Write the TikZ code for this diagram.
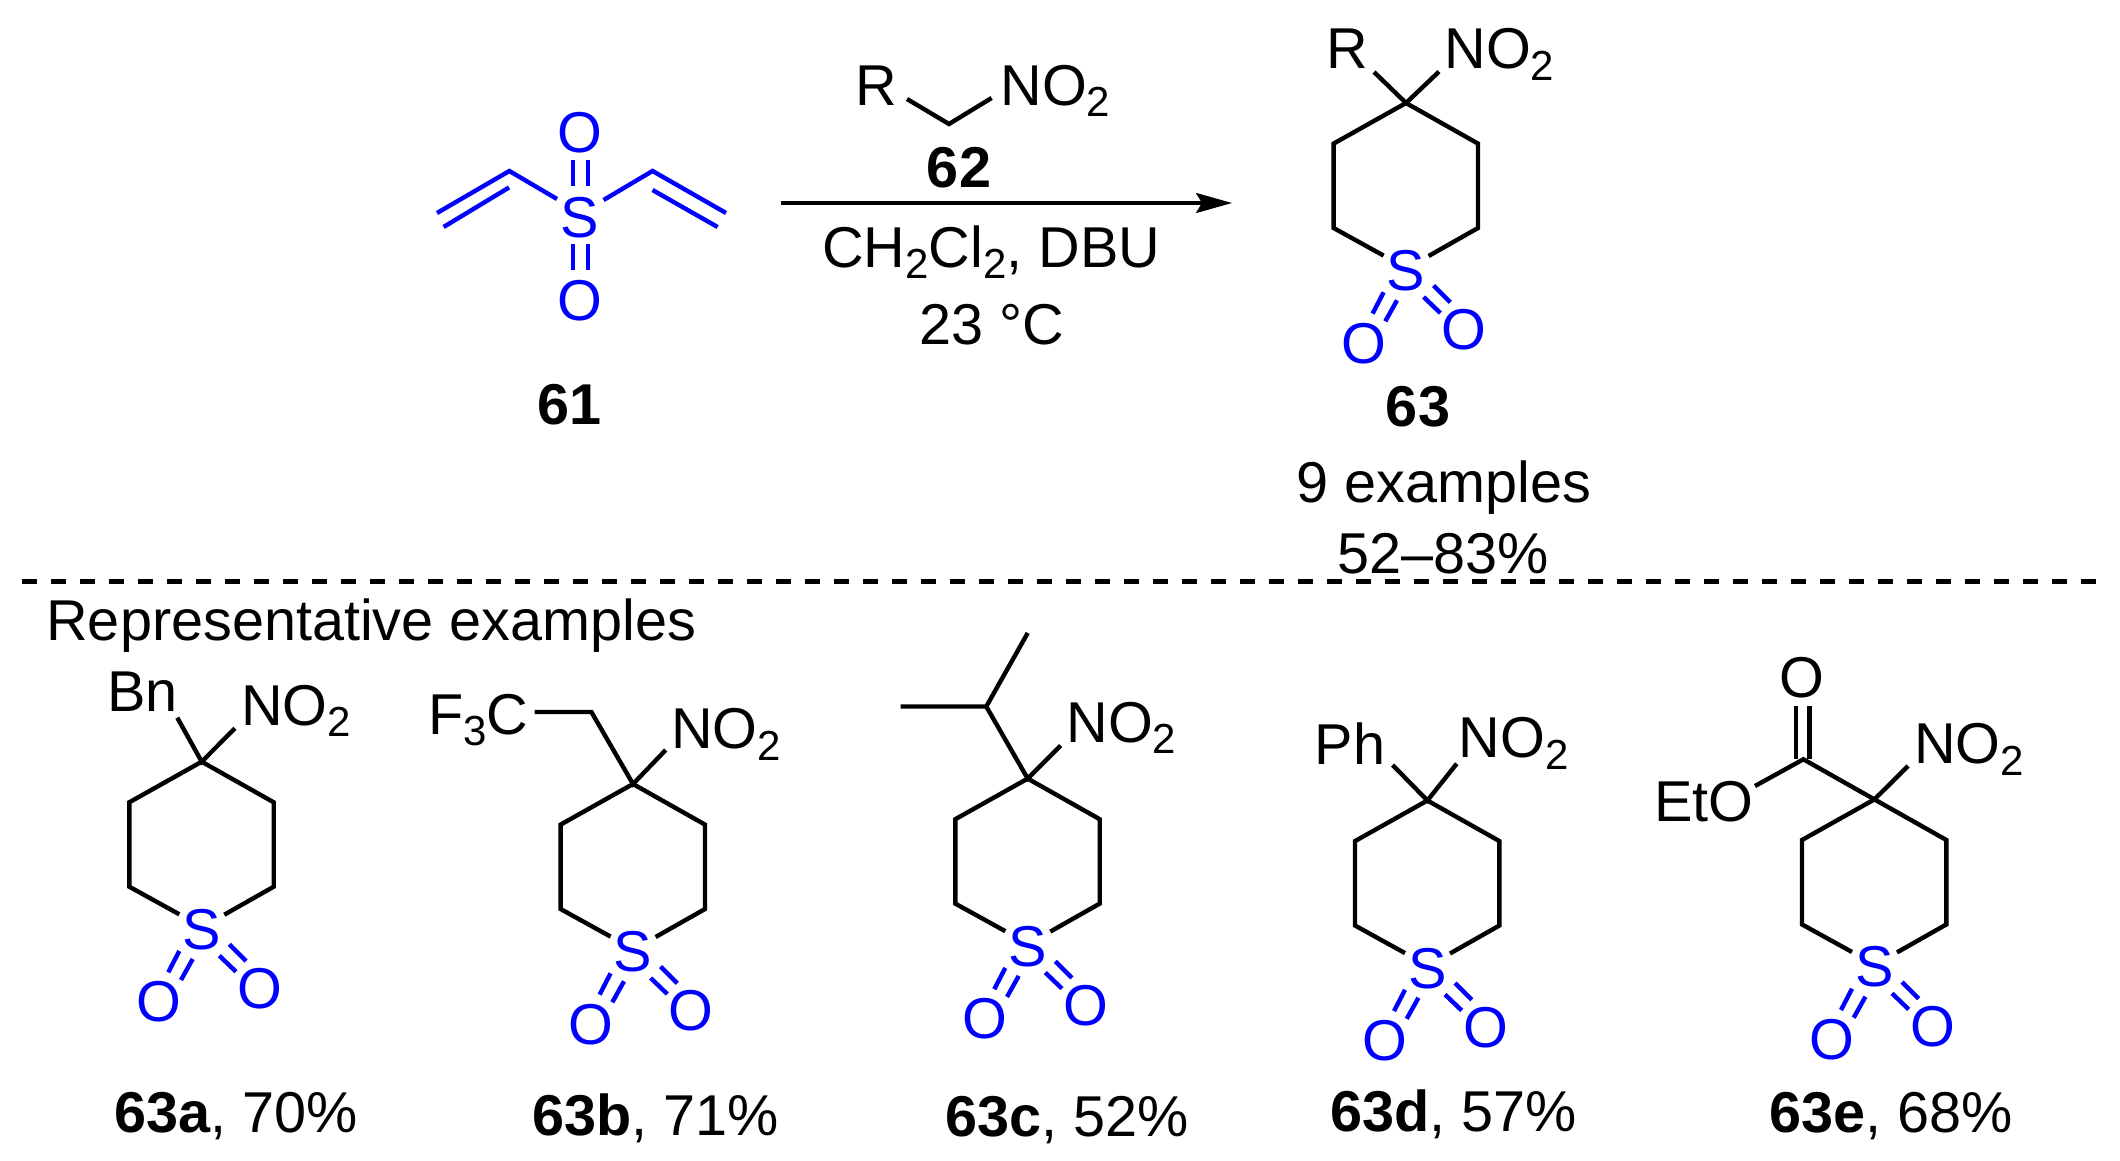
\documentclass[tikz,border=0pt]{standalone}
\usepackage{fontspec}
\setmainfont{Liberation Sans}
\usetikzlibrary{arrows.meta}
\definecolor{sblue}{RGB}{0,0,255}
\newcommand\fs{\fontsize{28.8}{32}\selectfont}
\newcommand\mysub[1]{\raisebox{-5.8pt}{\fontsize{21}{22}\selectfont #1}}
\newcommand\nitro{NO\mysub{2}}
\tikzset{
  bond/.style={line width=2.2pt,black},
  bbond/.style={line width=2.2pt,sblue},
  atomb/.style={inner sep=0pt,anchor=base,font=\fs,text=sblue},
  atomk/.style={inner sep=0pt,anchor=base,font=\fs,text=black},
  txtw/.style={inner sep=0pt,anchor=base west,font=\fs,text=black,xshift=-1.5pt},
  txtc/.style={inner sep=0pt,anchor=base,font=\fs,text=black},
}
\newcommand\sulfone[3]{%
 \begin{scope}[shift={(#2,#3)}]
  \coordinate (#1C) at (0,0);
  \coordinate (#1L1) at (-72.4,40.6);
  \coordinate (#1L2) at (-72.4,125);
  \coordinate (#1L3) at (-22.4,152.6);
  \coordinate (#1R1) at (72,40.6);
  \coordinate (#1R2) at (72,125);
  \coordinate (#1R3) at (22.6,153);
  \node[atomb] (#1S) at (0,187.5) {S};
  \node[atomb] (#1OL) at (-42.4,260) {O};
  \node[atomb] (#1OR) at (58.3,246.6) {O};
  \draw[bond] (#1L3) -- (#1L2) -- (#1L1) -- (#1C) -- (#1R1) -- (#1R2) -- (#1R3);
  \draw[bbond] (-22.4,189.3) -- (-33.4,210.6) (-9,197.3) -- (-20.7,218.3);
  \draw[bbond] (27.6,182.6) -- (44.3,199.3) (17.6,194) -- (34.3,210);
 \end{scope}}
\begin{document}
\begin{tikzpicture}[x=0.5pt,y=-0.5pt]
\useasboundingbox (0,0) rectangle (2120,1161);
\fill[white] (0,0) rectangle (2120,1161);

% 61
\node[atomb] (s61) at (580,237) {S};
\node[atomb] (o61a) at (580,153) {O};
\node[atomb] (o61b) at (580,320) {O};
\draw[bbond] (573,160) -- (573,186) (588,160) -- (588,186);
\draw[bbond] (573,244) -- (573,270) (588,244) -- (588,270);
\draw[bbond] (557,199) -- (509.4,171) -- (437,213);
\draw[bbond] (509,187.5) -- (443.6,227);
\draw[bbond] (603.6,200) -- (652.5,171) -- (726,213);
\draw[bbond] (652.5,190) -- (717.6,227);
\node[txtc,font=\fs\bfseries] (l61) at (570,424) {61};

% 62
\node[atomk] (r62) at (876,105) {R};
\node[txtw] (n62) at (1003,105) {\nitro};
\coordinate (c62) at (949,124);
\draw[bond] (907,99) -- (c62) -- (991.6,98);
\node[txtc,font=\fs\bfseries] (l62) at (959,187) {62};

% arrow
\coordinate (arrA) at (781,203);
\coordinate (arrB) at (1232,203);
\draw[line width=1.6pt,-{Stealth[length=18pt,width=10pt,inset=3pt]}] (arrA) -- (arrB);
\node[txtw] (cond1) at (825,267) {CH\mysub{2}Cl\mysub{2}, DBU};
\node[txtw] (cond2) at (922,344) {23 °C};

% 63
\sulfone{p}{1406}{103}
\node[atomk] (pRg) at (1347.5,69) {R};
\coordinate (pRb) at (1374,72);
\coordinate (pNb) at (1439,71.6);
\draw[bond] (pRb) -- (pC) -- (pNb);
\node[txtw] (pN) at (1447,69) {\nitro};
\node[txtc,font=\fs\bfseries] (l63) at (1418,426) {63};
\node[txtw] (ex) at (1299,502) {9 examples};
\node[txtw] (yl) at (1340,573) {52–83\%};

% divider
\coordinate (dA) at (22,581.3);
\coordinate (dB) at (2110,581.3);
\draw[line width=2.2pt,black,dash pattern=on 7.5pt off 7pt] (dA) -- (dB);
\node[txtw] (rep) at (49,640) {Representative examples};

% 63a
\sulfone{a}{201.7}{761.7}
\node[txtw] (aBn) at (110,711.7) {Bn};
\coordinate (aRb) at (177.3,717.7);
\coordinate (aNb) at (235,728.3);
\draw[bond] (aRb) -- (aC) -- (aNb);
\node[txtw] (aN) at (244,725) {\nitro};
\node[txtw] (la) at (117,1132.6) {\textbf{63a}, 70\%};

% 63b
\sulfone{b}{633}{784}
\node[txtw] (bF) at (431,734) {F\mysub{3}C};
\coordinate (bRb) at (534.5,712);
\coordinate (bCH) at (591.4,712);
\coordinate (bNb) at (665.7,750);
\draw[bond] (bRb) -- (bCH) -- (bC) -- (bNb);
\node[txtw] (bN) at (674,748.4) {\nitro};
\node[txtw] (lb) at (535,1135) {\textbf{63b}, 71\%};

% 63c
\sulfone{c}{1027.7}{778.6}
\coordinate (cCH) at (986.3,706.5);
\coordinate (cMa) at (900.7,706.5);
\coordinate (cMb) at (1027.7,633);
\coordinate (cNb) at (1060.7,745.5);
\draw[bond] (cMa) -- (cCH) -- (cMb);
\draw[bond] (cCH) -- (cC) -- (cNb);
\node[txtw] (cN) at (1069,742) {\nitro};
\node[txtw] (lc) at (948,1136) {\textbf{63c}, 52\%};

% 63d
\sulfone{d}{1427.4}{800.5}
\node[txtw] (dPh) at (1317.5,764) {Ph};
\coordinate (dRb) at (1392.6,765);
\coordinate (dNb) at (1456.7,763.7);
\draw[bond] (dRb) -- (dC) -- (dNb);
\node[txtw] (dN) at (1461.5,757.5) {\nitro};
\node[txtw] (ld) at (1333,1131.5) {\textbf{63d}, 57\%};

% 63e
\sulfone{e}{1874.4}{799.4}
\coordinate (eCO) at (1803.4,759.3);
\coordinate (eOb) at (1755,786);
\coordinate (eNb) at (1908,766);
\node[atomk] (eO) at (1802,697.7) {O};
\node[txtw] (eEt) at (1657,821.6) {EtO};
\draw[bond] (eOb) -- (eCO) -- (eC) -- (eNb);
\draw[bond] (1796,706) -- (1796,759) (1809.5,706) -- (1809.5,759);
\node[txtw] (eN) at (1916.7,763.7) {\nitro};
\node[txtw] (le) at (1772,1132.6) {\textbf{63e}, 68\%};
\end{tikzpicture}
\end{document}
